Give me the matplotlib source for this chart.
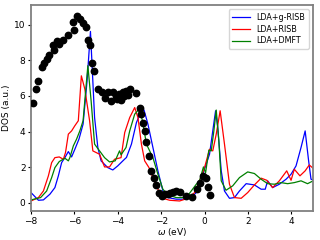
import matplotlib
matplotlib.use('Agg')
import matplotlib.pyplot as plt

# experiment (black dots)
exp_x = [-7.89, -7.79, -7.66, -7.51, -7.39, -7.28, -7.16, -7.00, -6.93, -6.82, -6.70, -6.54,
         -6.31, -6.05, -6.02, -5.90, -5.75, -5.59, -5.47, -5.36, -5.29, -5.18, -5.09, -4.90,
         -4.75, -4.60, -4.44, -4.32, -4.22, -4.10, -4.02, -3.95, -3.85, -3.78, -3.70, -3.60,
         -3.52, -3.42, -3.14, -2.99, -2.91, -2.84, -2.76, -2.68, -2.57, -2.45, -2.34, -2.25,
         -2.10, -1.94, -1.84, -1.68, -1.61, -1.46, -1.30, -1.12, -0.84, -0.58, -0.35, -0.23,
         -0.08, 0.08, 0.18, 0.23]
exp_y = [5.58, 6.39, 6.85, 7.60, 7.85, 8.07, 8.30, 8.86, 8.60, 9.06, 8.91, 9.16,
         9.42, 10.13, 9.70, 10.51, 10.32, 10.07, 9.89, 9.14, 8.86, 7.85, 7.42, 6.39,
         6.25, 5.88, 6.25, 5.73, 6.25, 6.00, 5.85, 6.10, 5.75, 6.20, 6.00, 6.30,
         6.05, 6.39, 6.14, 5.35, 4.98, 4.51, 4.04, 3.39, 2.64, 1.80, 1.42, 0.99,
         0.58, 0.39, 0.49, 0.52, 0.58, 0.62, 0.67, 0.62, 0.39, 0.35, 0.80, 1.12,
         1.52, 1.42, 0.90, 0.43]

# LDA+g-RISB
grisb_x = [-8.00, -7.66, -7.43, -7.13, -6.90, -6.74, -6.59, -6.44, -6.28, -6.13, -5.98, -5.79,
           -5.60, -5.42, -5.26, -5.07, -4.92, -4.77, -4.46, -4.23, -4.00, -3.69, -3.60, -3.37,
           -3.14, -2.91, -2.79, -2.61, -2.38, -2.15, -1.92, -1.69, -1.30, -0.84, -0.54, -0.31,
           -0.08, 0.23, 0.38, 0.51, 0.61, 0.77, 0.92, 1.15, 1.38, 1.61, 1.92, 2.30, 2.61, 2.80,
           2.91, 3.14, 3.45, 3.76, 3.99, 4.22, 4.45, 4.64, 4.80, 4.91, 5.06]
grisb_y = [0.58, 0.15, 0.17, 0.49, 0.86, 1.52, 2.26, 2.54, 2.88, 2.58, 3.01, 3.58,
           4.42, 6.80, 9.62, 4.79, 3.11, 2.36, 1.98, 1.85, 2.08, 2.45, 2.55, 3.30,
           4.51, 5.17, 5.21, 4.42, 3.11, 1.80, 0.67, 0.30, 0.21, 0.21, 0.39, 0.67,
           1.61, 2.73, 4.04, 5.17, 4.23, 1.80, 0.67, 0.26, 0.30, 0.67, 1.08, 1.01, 0.77, 0.77,
           1.24, 0.86, 1.05, 1.33, 1.61, 2.08, 3.11, 4.04, 2.36, 1.33, 1.27]

# LDA+RISB
risb_x = [-8.00, -7.66, -7.43, -7.20, -7.05, -6.90, -6.70, -6.51, -6.41, -6.28, -6.13, -5.98,
          -5.82, -5.68, -5.52, -5.30, -5.15, -4.84, -4.61, -4.38, -4.15, -3.85, -3.68, -3.45,
          -3.22, -3.07, -2.91, -2.76, -2.56, -2.38, -2.15, -1.92, -1.61, -1.15, -0.77, -0.46,
          -0.26, 0.00, 0.23, 0.38, 0.54, 0.72, 0.92, 1.15, 1.38, 1.69, 1.99, 2.30, 2.61, 2.87,
          3.14, 3.45, 3.79, 3.99, 4.14, 4.40, 4.64, 4.83, 5.06]
risb_y = [0.11, 0.30, 0.67, 1.52, 2.26, 2.54, 2.58, 2.45, 2.83, 3.86, 4.04, 4.33,
          4.61, 7.13, 6.39, 4.61, 2.92, 2.73, 2.02, 2.02, 2.45, 2.54, 3.95, 4.79,
          5.35, 4.79, 3.30, 2.36, 1.98, 1.42, 0.77, 0.26, 0.15, 0.11, 0.26, 0.58,
          1.14, 1.98, 3.01, 2.92, 3.86, 5.17, 3.30, 1.05, 0.30, 0.26, 0.58, 1.01, 1.39, 1.27,
          0.86, 1.24, 1.80, 1.27, 1.89, 1.52, 1.80, 2.13, 1.89]

# LDA+DMFT
dmft_x = [-8.00, -7.56, -7.28, -7.05, -6.90, -6.70, -6.44, -6.28, -6.21, -6.05, -5.90, -5.75,
          -5.60, -5.38, -5.23, -5.07, -4.84, -4.61, -4.38, -4.12, -3.92, -3.85, -3.62, -3.45,
          -3.22, -3.02, -2.86, -2.68, -2.53, -2.38, -2.15, -1.92, -1.69, -1.30, -0.84, -0.38,
          -0.23, -0.05, 0.05, 0.20, 0.31, 0.43, 0.54, 0.66, 0.77, 0.99, 1.30, 1.61, 1.99, 2.30,
          2.61, 2.91, 3.22, 3.53, 3.83, 4.14, 4.45, 4.75, 5.06]
dmft_y = [0.17, 0.30, 0.67, 1.42, 1.98, 2.32, 2.51, 2.36, 2.54, 3.20, 3.58, 4.04,
          4.61, 7.70, 5.73, 3.30, 2.92, 2.54, 2.30, 2.36, 2.92, 2.70, 3.11, 4.04,
          4.98, 5.26, 4.61, 3.30, 2.92, 2.54, 1.61, 0.77, 0.45, 0.30, 0.30, 1.05,
          1.24, 2.02, 1.70, 2.96, 2.92, 4.04, 5.21, 3.48, 1.24, 0.71, 0.96, 1.42, 1.74, 1.65,
          1.33, 1.08, 1.05, 1.14, 1.08, 1.14, 1.24, 1.08, 1.27]

fig = plt.figure(figsize=(3.2, 2.4), dpi=100)
ax = fig.add_axes([0.097, 0.121, 0.881, 0.858])

ax.plot(grisb_x, grisb_y, color='blue', lw=0.9, label='LDA+g-RISB')
ax.plot(risb_x, risb_y, color='red', lw=0.9, label='LDA+RISB')
ax.plot(dmft_x, dmft_y, color='green', lw=0.9, label='LDA+DMFT')
ax.plot(exp_x, exp_y, 'o', color='black', ms=4.6, zorder=3)

ax.set_xlim(-8, 5)
ax.set_ylim(-0.45, 11.1)
ax.set_xticks([-8, -6, -4, -2, 0, 2, 4])
ax.set_yticks([0, 2, 4, 6, 8, 10])
ax.tick_params(labelsize=6.5, length=2.5, width=0.8, pad=1.5)
ax.set_xlabel(r'$\omega$ (eV)', fontsize=6.5, labelpad=0)
ax.set_ylabel('DOS (a.u.)', fontsize=6.5, labelpad=2)
for s in ax.spines.values():
    s.set_color('#808080')
    s.set_linewidth(1.3)

ax.legend(loc='upper right', fontsize=5.8, handlelength=2.2, borderpad=0.45,
          labelspacing=0.35, frameon=True)

plt.savefig('out.png', dpi=100)
